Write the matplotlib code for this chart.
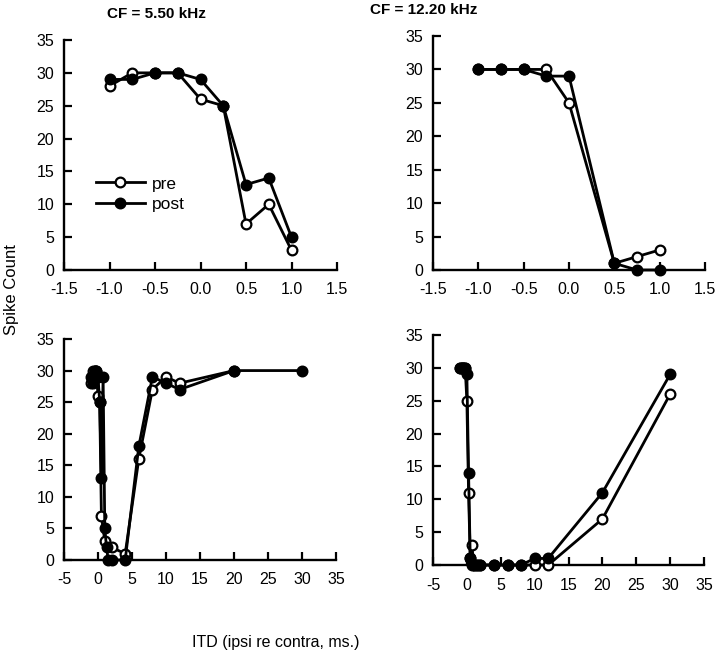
import matplotlib
matplotlib.use("Agg")
import matplotlib.pyplot as plt
from matplotlib.ticker import FormatStrFormatter

FONT = ["Liberation Sans Narrow", "Liberation Sans", "DejaVu Sans"]
plt.rcParams["font.family"] = FONT

# ---- data ----
# Top-left: CF = 5.50 kHz (narrow ITD range)
tl_x = [-1.0, -0.75, -0.5, -0.25, 0.0, 0.25, 0.5, 0.75, 1.0]
tl_pre = [28, 30, 30, 30, 26, 25, 7, 10, 3]
tl_post = [29, 29, 30, 30, 29, 25, 13, 14, 5]

# Top-right: CF = 12.20 kHz (narrow ITD range)
tr_x = [-1.0, -0.75, -0.5, -0.25, 0.0, 0.5, 0.75, 1.0]
tr_pre = [30, 30, 30, 30, 25, 1, 2, 3]
tr_post = [30, 30, 30, 29, 29, 1, 0, 0]

# Bottom-left: CF = 5.50 kHz (wide ITD range)
bl_pre_x = [-1.0, -0.75, -0.5, -0.25, 0.0, 0.25, 0.5, 1.0, 2.0, 4.0, 6.0, 8.0, 10.0, 12.0, 20.0]
bl_pre = [28, 30, 30, 30, 26, 25, 7, 3, 2, 1, 16, 27, 29, 28, 30]
bl_post_x = [-1.0, -0.75, -0.5, -0.25, 0.0, 0.25, 0.5, 0.75, 1.0, 1.25, 1.5, 2.0, 4.0, 6.0, 8.0, 10.0, 12.0, 20.0, 30.0]
bl_post = [29, 28, 30, 30, 29, 25, 13, 29, 5, 2, 0, 0, 0, 18, 29, 28, 27, 30, 30]

# Bottom-right: CF = 12.20 kHz (wide ITD range)
br_x = [-1.0, -0.75, -0.5, -0.25, 0.0, 0.25, 0.5, 0.75, 1.0, 1.5, 2.0, 4.0, 6.0, 8.0, 10.0, 12.0, 20.0, 30.0]
br_pre = [30, 30, 30, 30, 25, 11, 1, 3, 0, 0, 0, 0, 0, 0, 0, 0, 7, 26]
br_post = [30, 30, 30, 30, 29, 14, 1, 0, 0, 0, 0, 0, 0, 0, 1, 1, 11, 29]

titles = ["CF = 5.50 kHz", "CF = 12.20 kHz"]
series_labels = ["pre", "post"]
y_ticks = [0, 5, 10, 15, 20, 25, 30, 35]
narrow_ticks = [-1.5, -1.0, -0.5, 0.0, 0.5, 1.0, 1.5]
wide_ticks = [-5, 0, 5, 10, 15, 20, 25, 30, 35]

fig = plt.figure(figsize=(7.2, 6.57), dpi=100)
H = 657.0
W = 720.0

def rect(l, r, t, b):
    return [l / W, 1 - b / H, (r - l) / W, (b - t) / H]

ax_tl = fig.add_axes(rect(64, 337, 40, 270))
ax_tr = fig.add_axes(rect(433, 705, 36, 270))
ax_bl = fig.add_axes(rect(64, 336, 339, 560))
ax_br = fig.add_axes(rect(433, 704, 335, 565))

def style(ax, xticks, fmt):
    for s in ("top", "right"):
        ax.spines[s].set_visible(False)
    for s in ("left", "bottom"):
        ax.spines[s].set_linewidth(1.7)
    ax.set_ylim(0, 35)
    ax.set_xlim(xticks[0], xticks[-1])
    ax.set_xticks(xticks)
    ax.set_yticks(y_ticks)
    ax.xaxis.set_major_formatter(FormatStrFormatter(fmt))
    ax.tick_params(direction="in", length=6, width=1.6, labelsize=11.5)
    ax.tick_params(axis="x", pad=9)
    ax.tick_params(axis="y", pad=7)
    for lab in ax.get_xticklabels() + ax.get_yticklabels():
        lab.set_family(["Liberation Sans", "DejaVu Sans"])

def plot_pair(ax, xp, yp, xq, yq):
    lp, = ax.plot(xp, yp, color="black", lw=2.0, marker="o", ms=7,
                  mfc="white", mec="black", mew=1.6, clip_on=False, zorder=3)
    lq, = ax.plot(xq, yq, color="black", lw=2.0, marker="o", ms=7,
                  mfc="black", mec="black", mew=1.6, clip_on=False, zorder=4)
    return lp, lq

lp, lq = plot_pair(ax_tl, tl_x, tl_pre, tl_x, tl_post)
plot_pair(ax_tr, tr_x, tr_pre, tr_x, tr_post)
plot_pair(ax_bl, bl_pre_x, bl_pre, bl_post_x, bl_post)
plot_pair(ax_br, br_x, br_pre, br_x, br_post)

style(ax_tl, narrow_ticks, "%.1f")
style(ax_tr, narrow_ticks, "%.1f")
style(ax_bl, wide_ticks, "%d")
style(ax_br, wide_ticks, "%d")

leg = ax_tl.legend([lp, lq], series_labels, loc="upper left",
                   bbox_to_anchor=(0.06, 0.475), frameon=False,
                   handlelength=2.8, handletextpad=0.4, labelspacing=0.3,
                   prop={"family": FONT, "size": 12.5})

fig.text(156 / W, 1 - 14 / H, titles[0], ha="center", va="center",
         fontsize=11, fontweight="bold", family=FONT)
fig.text(424 / W, 1 - 10 / H, titles[1], ha="center", va="center",
         fontsize=11, fontweight="bold", family=FONT)
fig.text(276 / W, 1 - 643 / H, "ITD (ipsi re contra, ms.)", ha="center",
         va="center", fontsize=11.5, family=FONT)
fig.text(12 / W, 1 - 290 / H, "Spike Count", ha="center", va="center",
         rotation=90, fontsize=12, family=FONT)

fig.savefig("out.png", dpi=100)
